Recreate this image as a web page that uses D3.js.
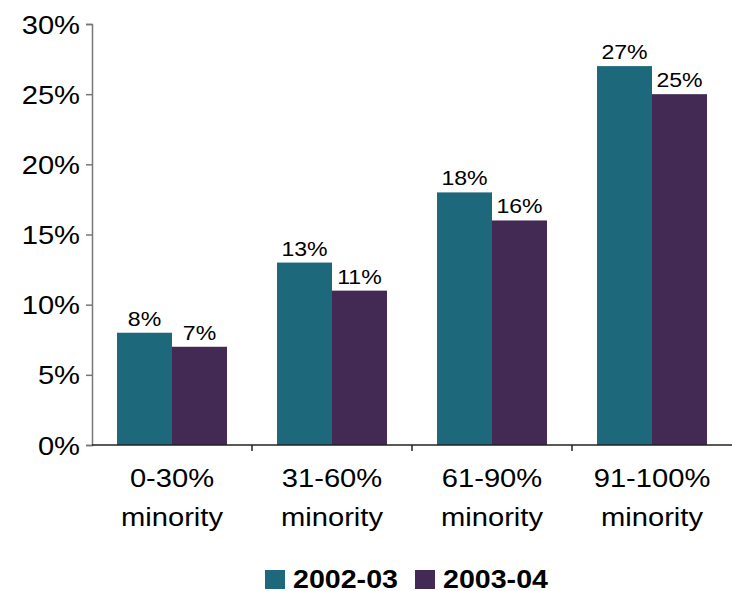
<!DOCTYPE html>
<html>
<head>
<meta charset="utf-8">
<script src="https://cdn.jsdelivr.net/npm/d3@7"></script>
<style>
  html, body { margin: 0; padding: 0; background: #fff; }
  svg { display: block; font-family: Arial, "Liberation Sans", sans-serif; }
</style>
</head>
<body>
<svg id="chart" width="732" height="591"></svg>
<script>
// Share of students by school minority concentration, two school years
const categories = ["0-30%|minority", "31-60%|minority", "61-90%|minority", "91-100%|minority"];
const seriesNames = ["2002-03", "2003-04"];
const values2002 = [8, 13, 18, 27];
const values2003 = [7, 11, 16, 25];
const yTicks = [0, 5, 10, 15, 20, 25, 30];
const colors = ["#1d687a", "#432a55"];

const svg = d3.select("#chart");
const margin = { left: 92, right: 0, top: 24, bottom: 146 };
const W = 732, H = 591;
const plotBottom = H - margin.bottom;
const SX = 1.1; // glyphs are drawn slightly wide

// Text placed at (x, y) and widened horizontally around its anchor
function label(parent, x, y, txt, size, anchor, weight) {
  return parent.append("text")
    .attr("transform", `translate(${x},${y}) scale(${SX},1)`)
    .attr("text-anchor", anchor || "middle")
    .attr("font-size", size)
    .attr("font-weight", weight || "normal")
    .attr("fill", "#000")
    .text(txt);
}

const x = d3.scaleBand().domain(categories).range([margin.left, W]).paddingInner(0).paddingOuter(0);
const y = d3.scaleLinear().domain([0, 30]).range([plotBottom, margin.top]);
const barW = 55;
const sub = d3.scaleBand().domain(seriesNames).range([0, barW * 2]);
const groupOffset = (x.bandwidth() - barW * 2) / 2;

const data = categories.map((c, i) => ({ cat: c, vals: [values2002[i], values2003[i]] }));

// Bars with value labels
const g = svg.append("g");
data.forEach(d => {
  d.vals.forEach((v, j) => {
    const bx = x(d.cat) + groupOffset + sub(seriesNames[j]);
    g.append("rect")
      .attr("x", bx)
      .attr("y", y(v))
      .attr("width", sub.bandwidth())
      .attr("height", y(0) - y(v))
      .attr("fill", colors[j]);
    label(g, bx + sub.bandwidth() / 2, y(v) - 7, v + "%", 21);
  });
});

// Y axis
const yAxis = d3.axisLeft(y).tickValues(yTicks).tickFormat("").tickSize(6);
const ya = svg.append("g").attr("transform", `translate(${margin.left},0)`).call(yAxis);
ya.select(".domain").attr("stroke", "#777").attr("stroke-width", 1.5);
ya.selectAll(".tick line").attr("stroke", "#777").attr("stroke-width", 1.5);
yTicks.forEach(t => label(svg, margin.left - 12, y(t) + 9.5, t + "%", 26.5, "end"));

// X axis with ticks at category boundaries
svg.append("line")
  .attr("x1", margin.left).attr("x2", W)
  .attr("y1", plotBottom).attr("y2", plotBottom)
  .attr("stroke", "#222").attr("stroke-width", 1.5);
const bounds = categories.map(c => x(c) + x.bandwidth()).slice(0, -1);
svg.selectAll(".xb").data(bounds).enter().append("line")
  .attr("x1", d => d).attr("x2", d => d)
  .attr("y1", plotBottom).attr("y2", plotBottom + 6)
  .attr("stroke", "#222").attr("stroke-width", 1.5);

// Category labels (two lines)
categories.forEach(c => {
  c.split("|").forEach((ln, i) => {
    label(svg, x(c) + x.bandwidth() / 2, 487 + i * 39, ln, 26.5);
  });
});

// Legend
const legend = [{ x: 265, name: seriesNames[0], c: colors[0] }, { x: 415, name: seriesNames[1], c: colors[1] }];
legend.forEach(l => {
  svg.append("rect").attr("x", l.x).attr("y", 570).attr("width", 20).attr("height", 19).attr("fill", l.c);
  label(svg, l.x + 28, 588, l.name, 26, "start", "bold");
});
</script>
</body>
</html>
